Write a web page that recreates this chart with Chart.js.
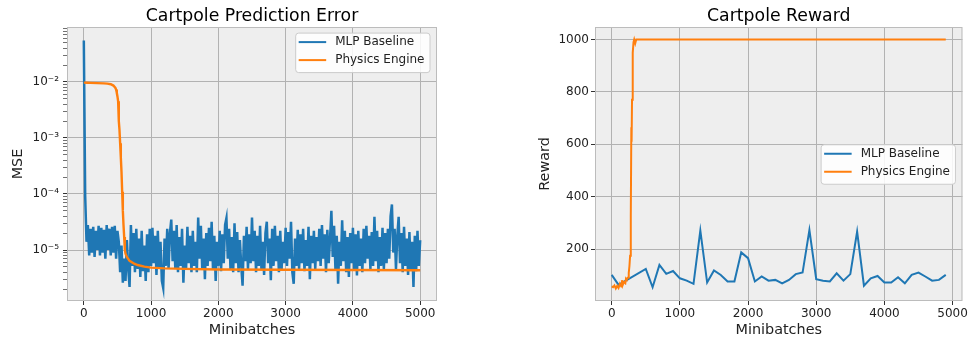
<!DOCTYPE html>
<html>
<head>
<meta charset="utf-8">
<script src="https://cdn.jsdelivr.net/npm/chart.js@4.4.1/dist/chart.umd.min.js"></script>
<style>
  html, body { margin: 0; padding: 0; background: #fff; }
  #wrap { position: relative; width: 970px; height: 342px; overflow: hidden; }
  canvas { position: absolute; top: 0; }
</style>
</head>
<body>
<div id="wrap">
  <canvas id="mseChart" width="485" height="342" style="left:0"></canvas>
  <canvas id="rewardChart" width="485" height="342" style="left:485px"></canvas>
</div>
<script>
// --- data ---
const stepTicks = [0, 1000, 2000, 3000, 4000, 5000];
const mseTicks = [1e-5, 1e-4, 1e-3, 1e-2];
const mseTickLabels = ['10⁻⁵', '10⁻⁴', '10⁻³', '10⁻²'];
const rewardTicks = [200, 400, 600, 800, 1000];

// MLP baseline MSE, one value every 20 minibatches, in units of 1e-6
const mlpMseE6 = [
  55000, 95, 14, 28, 8, 24, 9, 26, 7.5, 22, 10, 27, 8, 25, 9, 23, 7, 28, 10, 24, 8, 26, 9, 27, 7, 22,
  14, 4, 12, 2.6, 7, 2.8, 15, 4.6, 2.2, 28, 5.2, 20, 4, 24, 4.6, 16, 3.3, 22, 4.2, 12, 2.8, 19, 4, 24, 5.2,
  25, 5.8, 18, 3.6, 22, 4.6, 14, 2.8, 2.1, 16, 5.2, 24, 4.6, 20, 35, 6.3, 22, 4.6, 28, 4, 17, 5.2, 24, 2.6, 12,
  4.6, 26, 5.8, 18, 4, 22, 5.2, 14, 4, 38, 7, 27, 4.6, 16, 3, 20, 5.2, 25, 6.3, 32, 4.6, 18, 2.8, 14, 5.2,
  22, 4.2, 19, 5.8, 28, 37, 7, 24, 4.6, 17, 4, 30, 5.8, 21, 4, 15, 5.2, 2.3, 18, 6.3, 26, 4.6, 19, 5.8, 38,
  6.3, 22, 4, 18, 5.2, 27, 4.6, 14, 3.6, 20, 32, 5.8, 16, 2.9, 24, 5.2, 27, 6.3, 18, 4, 22, 4.6, 14, 5.8, 25,
  5.2, 21, 7, 32, 4, 2.5, 16, 5.2, 23, 4.6, 19, 5.8, 24, 4.2, 15, 5.2, 26, 3, 18, 5.8, 22, 4.6, 17, 6.3, 24,
  5.2, 28, 7, 19, 4, 23, 5.8, 16, 50, 7.5, 27, 4.6, 18, 2.5, 14, 5.2, 34, 6.3, 22, 4, 17, 3.3, 20, 5.8, 25,
  4.6, 19, 3.5, 22, 5.2, 16, 4, 24, 5.8, 27, 7, 18, 4.6, 21, 5.2, 39, 6.3, 22, 4, 17, 5.2, 25, 4.6, 20, 5.8,
  24, 7, 40, 65, 9, 24, 4.6, 18, 39, 5.8, 20, 4, 26, 5.2, 16, 3.6, 21, 4.6, 14, 2.2, 18, 4.2, 22, 5.2, 15
];
const mlpMseSteps = mlpMseE6.map((_, i) => i * 20);

const physMseSteps = [0, 50, 100, 200, 300, 350, 400, 440, 470, 480, 490, 500, 510, 520, 530, 540, 550, 560,
  570, 580, 590, 600, 610, 620, 640, 680, 750, 800, 900, 1000, 1200, 1500, 2000, 3000, 4000, 5000];
const physMse = [9.7e-3, 9.65e-3, 9.6e-3, 9.5e-3, 9.4e-3, 9.3e-3, 9.1e-3, 8.6e-3, 7.8e-3, 7.3e-3, 6.4e-3,
  5.5e-3, 4.5e-3, 2.0e-3, 1.4e-3, 8e-4, 4.5e-4, 2.5e-4, 1.1e-4, 5e-5, 2.8e-5, 1.7e-5, 1.0e-5, 8.6e-6,
  7.5e-6, 6.4e-6, 5.7e-6, 5.4e-6, 5.05e-6, 4.85e-6, 4.7e-6, 4.6e-6, 4.5e-6, 4.45e-6, 4.4e-6, 4.35e-6];

const mlpRewardSteps = [0, 100, 500, 600, 700, 800, 900, 1000, 1100, 1200, 1300, 1400, 1500, 1600, 1700,
  1800, 1900, 2000, 2100, 2200, 2300, 2400, 2500, 2600, 2700, 2800, 2900, 3000, 3100, 3200, 3300, 3400,
  3500, 3600, 3700, 3800, 3900, 4000, 4100, 4200, 4300, 4400, 4500, 4600, 4700, 4800, 4900];
const mlpReward = [102, 64, 125, 55, 140, 106, 117, 89, 80, 68, 271, 73, 119, 102, 77, 77, 188, 166, 77,
  96, 80, 83, 70, 83, 105, 111, 273, 86, 80, 77, 108, 80, 105, 267, 61, 89, 98, 73, 73, 93, 70, 102, 111,
  96, 80, 83, 102];

const physRewardSteps = [0, 20, 40, 60, 80, 100, 120, 140, 150, 160, 180, 200, 210, 220, 240, 250, 260,
  270, 280, 288, 292, 298, 305, 312, 320, 330, 345, 360, 400, 1000, 2000, 3000, 4000, 4900];
const physReward = [58, 55, 62, 50, 60, 52, 68, 58, 82, 62, 75, 70, 88, 85, 92, 110, 135, 175, 330, 665,
  610, 770, 880, 950, 990, 1000, 985, 1000, 1000, 1000, 1000, 1000, 1000, 1000];

// --- styling ---
const FONT = 'DejaVu Sans';
const BLUE = '#1f77b4';
const ORANGE = '#ff7f0e';
const GRID = '#b2b2b2';
const INK = '#222222';

const toPoints = (xs, ys) => xs.map((x, i) => ({ x, y: ys[i] }));
const isDecade = v => Math.abs(Math.log10(v) - Math.round(Math.log10(v))) < 1e-9;

// background, frame, title and legend drawn in matplotlib fashion
const plotDecor = {
  id: 'plotDecor',
  beforeDraw(chart) {
    const { ctx, chartArea: a } = chart;
    ctx.save();
    ctx.fillStyle = '#eeeeee';
    ctx.fillRect(a.left, a.top, a.right - a.left, a.bottom - a.top);
    ctx.restore();
  },
  afterDraw(chart, args, opts) {
    const { ctx, chartArea: a } = chart;
    ctx.save();
    ctx.strokeStyle = '#bcbcbc';
    ctx.lineWidth = 1;
    ctx.strokeRect(a.left + 0.5, a.top + 0.5, a.right - a.left - 1, a.bottom - a.top - 1);

    ctx.fillStyle = '#000';
    ctx.font = `17.3px "${FONT}"`;
    ctx.textAlign = 'center';
    ctx.textBaseline = 'alphabetic';
    ctx.fillText(opts.title, (a.left + a.right) / 2, 20.5);

    // legend
    ctx.font = `12px "${FONT}"`;
    const items = chart.data.datasets.map(d => ({ label: d.label, color: d.borderColor }));
    const textW = Math.max(...items.map(it => ctx.measureText(it.label).width));
    const w = 40 + textW + 5;
    const h = 39.5;
    const x = a.right - 7.5 - w;
    const y = opts.legendPos === 'upper right' ? a.top + 5.6 : (a.top + a.bottom) / 2 - h / 2;
    ctx.beginPath();
    ctx.roundRect(x + 0.5, y + 0.5, w, h, 3);
    ctx.fillStyle = 'rgba(255,255,255,0.85)';
    ctx.fill();
    ctx.strokeStyle = '#cccccc';
    ctx.lineWidth = 1;
    ctx.stroke();
    items.forEach((it, i) => {
      const cy = y + 9.5 + i * 18;
      ctx.strokeStyle = it.color;
      ctx.lineWidth = 2;
      ctx.beginPath();
      ctx.moveTo(x + 3.5, cy);
      ctx.lineTo(x + 31, cy);
      ctx.stroke();
      ctx.fillStyle = INK;
      ctx.textAlign = 'left';
      ctx.textBaseline = 'middle';
      ctx.fillText(it.label, x + 40, cy);
    });
    ctx.restore();
  }
};

const tickFont = { family: FONT, size: 12 };
const labelFont = { family: FONT, size: 14.4 };

function xScale(min, max) {
  return {
    type: 'linear',
    min, max,
    afterBuildTicks: ax => { ax.ticks = stepTicks.map(v => ({ value: v })); },
    afterFit: ax => { ax.height = 41; },
    border: { display: false },
    grid: { color: GRID, lineWidth: 1, tickColor: '#333', tickLength: 4 },
    ticks: { font: tickFont, color: INK, padding: 2, autoSkip: false, maxRotation: 0,
      callback: v => String(v) },
    title: { display: true, text: 'Minibatches', font: labelFont, color: INK,
      padding: { top: 0, bottom: 3.4 } }
  };
}

// --- left: prediction error ---
new Chart(document.getElementById('mseChart'), {
  type: 'line',
  data: {
    datasets: [
      { label: 'MLP Baseline', data: toPoints(mlpMseSteps, mlpMseE6.map(v => v * 1e-6)),
        borderColor: BLUE, borderWidth: 2.5, pointRadius: 0, tension: 0, order: 1 },
      { label: 'Physics Engine', data: toPoints(physMseSteps, physMse),
        borderColor: ORANGE, borderWidth: 2.4, pointRadius: 0, tension: 0, order: 0 }
    ]
  },
  options: {
    responsive: false, animation: false, devicePixelRatio: 1,
    layout: { padding: { left: 0, right: 48, top: 27, bottom: 0 } },
    plugins: {
      legend: { display: false }, tooltip: { enabled: false },
      plotDecor: { title: 'Cartpole Prediction Error', legendPos: 'upper right' }
    },
    scales: {
      x: xScale(-250, 5250),
      y: {
        type: 'logarithmic',
        min: 1.23e-6, max: 0.0955,
        afterBuildTicks: ax => {
          const t = [];
          for (let d = -6; d <= -2; d++) {
            for (let m = 1; m <= 9; m++) {
              const v = m * Math.pow(10, d);
              if (v >= ax.min && v <= ax.max) t.push({ value: v });
            }
          }
          ax.ticks = t;
        },
        afterFit: ax => { ax.width = 67; },
        border: { display: false },
        grid: {
          color: c => (c.tick && isDecade(c.tick.value)) ? GRID : 'rgba(0,0,0,0)',
          tickColor: '#333', lineWidth: 1, tickLength: 4,
          tickWidth: c => (c.tick && isDecade(c.tick.value)) ? 1 : 0.7
        },
        ticks: {
          font: tickFont, color: INK, padding: 4, autoSkip: false,
          callback: v => {
            const i = mseTicks.findIndex(t => Math.abs(t - v) / t < 1e-6);
            return i >= 0 ? mseTickLabels[i] : '';
          }
        },
        title: { display: true, text: 'MSE', font: labelFont, color: INK, padding: { top: 10, bottom: 0 } }
      }
    }
  },
  plugins: [plotDecor]
});

// --- right: reward ---
new Chart(document.getElementById('rewardChart'), {
  type: 'line',
  data: {
    datasets: [
      { label: 'MLP Baseline', data: toPoints(mlpRewardSteps, mlpReward),
        borderColor: BLUE, borderWidth: 2, pointRadius: 0, tension: 0, order: 1 },
      { label: 'Physics Engine', data: toPoints(physRewardSteps, physReward),
        borderColor: ORANGE, borderWidth: 2, pointRadius: 0, tension: 0, order: 0 }
    ]
  },
  options: {
    responsive: false, animation: false, devicePixelRatio: 1,
    layout: { padding: { left: 0, right: 6, top: 27, bottom: 0 } },
    plugins: {
      legend: { display: false }, tooltip: { enabled: false },
      plotDecor: { title: 'Cartpole Reward', legendPos: 'center right' }
    },
    scales: {
      x: xScale(-245, 5145),
      y: {
        type: 'linear',
        min: 2.5, max: 1047.5,
        afterBuildTicks: ax => { ax.ticks = rewardTicks.map(v => ({ value: v })); },
        afterFit: ax => { ax.width = 110; },
        border: { display: false },
        grid: { color: GRID, lineWidth: 1, tickColor: '#333', tickLength: 4 },
        ticks: { font: tickFont, color: INK, padding: 2, autoSkip: false, callback: v => String(v) },
        title: { display: true, text: 'Reward', font: labelFont, color: INK, padding: { top: 51.4, bottom: 0 } }
      }
    }
  },
  plugins: [plotDecor]
});
</script>
</body>
</html>
